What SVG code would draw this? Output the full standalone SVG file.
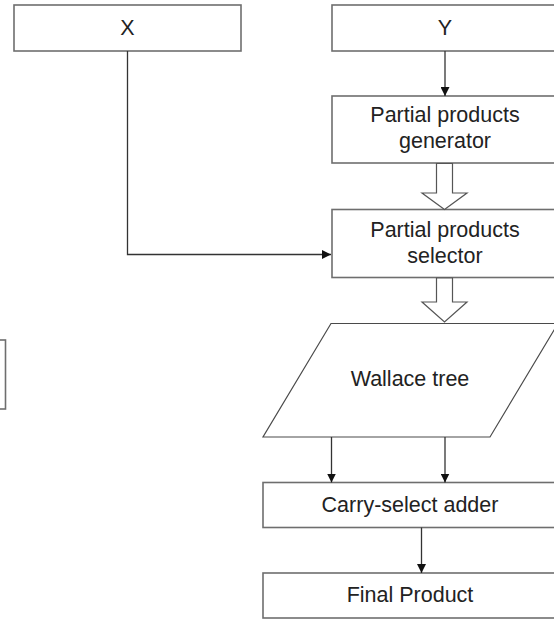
<svg xmlns="http://www.w3.org/2000/svg" width="554" height="622" viewBox="0 0 554 622">
  <style>
    .box { fill: #ffffff; stroke: #6e6e6e; stroke-width: 1.6; }
    .shape { fill: #ffffff; stroke: #4a4a4a; stroke-width: 1.2; }
    .wire { fill: none; stroke: #333333; stroke-width: 1.3; }
    .hollow { fill: #ffffff; stroke: #555555; stroke-width: 1.2; stroke-linejoin: miter; }
    .label { font-family: "Liberation Sans", Arial, sans-serif; font-size: 21.5px; fill: #222222; text-anchor: middle; }
  </style>
  <defs>
    <marker id="arrow" viewBox="0 0 10 10" refX="10" refY="5" markerWidth="9" markerHeight="9" markerUnits="userSpaceOnUse" orient="auto">
      <path d="M0,0 L10,5 L0,10 Z" fill="#111111"/>
    </marker>
  </defs>

  <rect width="554" height="622" fill="#ffffff"/>

  <!-- partly visible block at the left edge -->
  <g id="edge-block">
    <rect class="box" x="-100" y="340" width="105.5" height="69"/>
  </g>

  <g id="x-input">
    <rect class="box" x="14" y="5" width="227" height="46"/>
    <text class="label" x="127.5" y="35">X</text>
  </g>

  <g id="y-input">
    <rect class="box" x="332" y="5" width="226" height="46"/>
    <text class="label" x="445" y="35">Y</text>
  </g>

  <g id="pp-generator">
    <rect class="box" x="332" y="96" width="226" height="67"/>
    <text class="label" x="445" y="122">Partial products</text>
    <text class="label" x="445" y="148">generator</text>
  </g>

  <g id="pp-selector">
    <rect class="box" x="332" y="209.5" width="226" height="68"/>
    <text class="label" x="445" y="237">Partial products</text>
    <text class="label" x="445" y="263">selector</text>
  </g>

  <g id="wallace-tree">
    <polygon class="shape" points="331,323.5 558,323.5 490,437 263,437"/>
    <text class="label" x="410" y="386">Wallace tree</text>
  </g>

  <g id="carry-select-adder">
    <rect class="box" x="263" y="482.5" width="295" height="45"/>
    <text class="label" x="410" y="512">Carry-select adder</text>
  </g>

  <g id="final-product">
    <rect class="box" x="263" y="573" width="295" height="45"/>
    <text class="label" x="410" y="602">Final Product</text>
  </g>

  <g id="connectors">
    <!-- Y into generator -->
    <line class="wire" x1="445" y1="51" x2="445" y2="96" marker-end="url(#arrow)"/>
    <!-- X routed into selector -->
    <polyline class="wire" points="127.5,51 127.5,254.5 331,254.5" marker-end="url(#arrow)"/>
    <!-- wide hollow arrows -->
    <polygon class="hollow" points="436.5,163.5 452.5,163.5 452.5,193 467,193 444.5,209.5 422,193 436.5,193"/>
    <polygon class="hollow" points="436.5,278 452.5,278 452.5,302 467,302 444.5,322 422,302 436.5,302"/>
    <!-- Wallace tree outputs into adder -->
    <line class="wire" x1="331.5" y1="437" x2="331.5" y2="482.5" marker-end="url(#arrow)"/>
    <line class="wire" x1="445" y1="437" x2="445" y2="482.5" marker-end="url(#arrow)"/>
    <!-- adder into final product -->
    <line class="wire" x1="421.5" y1="527.5" x2="421.5" y2="573" marker-end="url(#arrow)"/>
  </g>
</svg>
